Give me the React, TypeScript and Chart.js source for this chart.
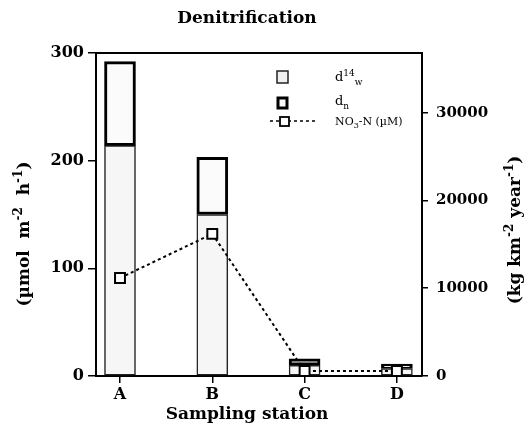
import React, { useEffect, useRef } from "react";
import { Chart, registerables } from "chart.js";
Chart.register(...registerables);

// ---- data ----
const stations = ["A", "B", "C", "D"];
const d14w = [214, 150, 10, 7];
const dn = [78, 53, 6, 4];
const no3n = [91, 132, 4.6, 4.6];
const leftTicks = [0, 100, 200, 300];
const rightTicks = [0, 10000, 20000, 30000];
const CONV = 122.64; // µmol m-2 h-1 -> kg km-2 year-1 (N)

const SERIF = '"DejaVu Serif", serif';

type Seg = { t: string; s?: "sup" | "sub" };

function drawRich(
  ctx: CanvasRenderingContext2D,
  segs: Seg[],
  x: number,
  y: number,
  size: number,
  weight: string,
  align: "center" | "left"
) {
  const fontFor = (s?: string) => `${weight} ${s ? Math.round(size * 0.7) : size}px ${SERIF}`;
  const widths = segs.map((seg) => {
    ctx.font = fontFor(seg.s);
    return ctx.measureText(seg.t).width;
  });
  const total = widths.reduce((a, b) => a + b, 0);
  let cx = align === "center" ? x - total / 2 : x;
  ctx.textBaseline = "alphabetic";
  ctx.textAlign = "left";
  segs.forEach((seg, i) => {
    ctx.font = fontFor(seg.s);
    const dy = seg.s === "sup" ? -size * 0.42 : seg.s === "sub" ? size * 0.3 : 0;
    ctx.fillText(seg.t, cx, y + dy);
    cx += widths[i];
  });
}

const decorPlugin = {
  id: "decor",
  afterDraw(chart: any) {
    const ctx: CanvasRenderingContext2D = chart.ctx;
    const a = chart.chartArea;
    ctx.save();
    ctx.fillStyle = "#000";
    ctx.strokeStyle = "#000";
    // top frame line
    ctx.lineWidth = 2;
    ctx.beginPath();
    ctx.moveTo(a.left - 1, a.top);
    ctx.lineTo(a.right + 1, a.top);
    ctx.stroke();

    // title
    drawRich(ctx, [{ t: "Denitrification" }], 247, 23, 17, "bold", "center");
    // x title
    drawRich(ctx, [{ t: "Sampling station" }], 247, 419, 17, "bold", "center");

    // left y title (rotated)
    ctx.save();
    ctx.translate(29, 234);
    ctx.rotate(-Math.PI / 2);
    drawRich(
      ctx,
      [{ t: "(µmol  m" }, { t: "-2", s: "sup" }, { t: "  h" }, { t: "-1", s: "sup" }, { t: ")" }],
      0,
      0,
      17,
      "bold",
      "center"
    );
    ctx.restore();

    // right y title (rotated)
    ctx.save();
    ctx.translate(520, 230);
    ctx.rotate(-Math.PI / 2);
    drawRich(
      ctx,
      [{ t: "(kg km" }, { t: "-2", s: "sup" }, { t: " year" }, { t: "-1", s: "sup" }, { t: ")" }],
      0,
      0,
      17,
      "bold",
      "center"
    );
    ctx.restore();

    // legend
    // d14w swatch
    ctx.fillStyle = "#efefef";
    ctx.fillRect(277, 71, 11, 12);
    ctx.lineWidth = 1.5;
    ctx.strokeStyle = "#222";
    ctx.strokeRect(277, 71, 11, 12);
    // dn swatch
    ctx.fillStyle = "#fafafa";
    ctx.fillRect(277, 97, 11, 12);
    ctx.lineWidth = 3;
    ctx.strokeStyle = "#000";
    ctx.strokeRect(278, 98, 9, 10);
    // NO3 line swatch
    ctx.lineWidth = 1.5;
    ctx.setLineDash([3, 3]);
    ctx.beginPath();
    ctx.moveTo(270, 121);
    ctx.lineTo(318, 121);
    ctx.stroke();
    ctx.setLineDash([]);
    ctx.fillStyle = "#fff";
    ctx.fillRect(280, 117, 9, 9);
    ctx.lineWidth = 1.8;
    ctx.strokeRect(280, 117, 9, 9);

    ctx.fillStyle = "#000";
    drawRich(ctx, [{ t: "d" }, { t: "14", s: "sup" }, { t: "w", s: "sub" }], 335, 81, 13, "normal", "left");
    drawRich(ctx, [{ t: "d" }, { t: "n", s: "sub" }], 335, 105, 13, "normal", "left");
    drawRich(ctx, [{ t: "NO" }, { t: "3", s: "sub" }, { t: "-N (µM)" }], 335, 125, 11, "normal", "left");

    ctx.restore();
  },
};

export default function App() {
  const ref = useRef<HTMLCanvasElement | null>(null);
  useEffect(() => {
    if (!ref.current) return;
    const tickFont = { family: SERIF, size: 16, weight: "bold" as const };
    const chart = new Chart(ref.current, {
      type: "bar",
      data: {
        datasets: [
          {
            type: "line",
            label: "NO3-N (µM)",
            data: stations.map((_, i) => ({ x: i, y: no3n[i] })),
            yAxisID: "y",
            xAxisID: "x",
            borderColor: "#000",
            borderWidth: 2,
            borderDash: [3, 3],
            pointStyle: "rect",
            pointRadius: 7,
            pointBorderWidth: 2,
            pointBackgroundColor: "#fff",
            pointBorderColor: "#000",
            tension: 0,
            fill: false,
            order: 0,
            stack: "no3",
          } as any,
          {
            type: "bar",
            label: "d14w",
            data: stations.map((_, i) => ({ x: i, y: d14w[i] })),
            yAxisID: "y",
            xAxisID: "x",
            backgroundColor: "#f6f6f6",
            borderColor: "#222",
            borderWidth: 1.5,
            borderSkipped: false,
            barThickness: 31,
            order: 1,
            stack: "s",
          } as any,
          {
            type: "bar",
            label: "dn",
            data: stations.map((_, i) => ({ x: i, y: dn[i] })),
            yAxisID: "y",
            xAxisID: "x",
            backgroundColor: "#fbfbfb",
            borderColor: "#000",
            borderWidth: 3,
            borderSkipped: false,
            barThickness: 31,
            order: 2,
            stack: "s",
          } as any,
        ],
      },
      options: {
        animation: false,
        responsive: true,
        maintainAspectRatio: false,
        layout: { padding: { top: 53, left: 0, right: 0, bottom: 0 } },
        plugins: {
          legend: { display: false },
          title: { display: false },
          tooltip: { enabled: false },
        },
        scales: {
          x: {
            type: "linear",
            position: "bottom",
            stacked: true,
            offset: false,
            min: -0.26,
            max: 3.272,
            afterBuildTicks: (axis: any) => {
              axis.ticks = stations.map((_, i) => ({ value: i }));
            },
            afterFit: (axis: any) => {
              axis.height = 56;
            },
            ticks: {
              callback: (v: any) => stations[Math.round(Number(v))] ?? "",
              font: tickFont,
              color: "#000",
              padding: 2,
              maxRotation: 0,
              autoSkip: false,
            },
            grid: {
              offset: false,
              drawOnChartArea: false,
              drawTicks: true,
              tickLength: 7,
              color: "#000",
              lineWidth: 1.5,
            },
            border: { display: true, color: "#000", width: 2 },
          },
          y: {
            type: "linear",
            position: "left",
            stacked: true,
            min: 0,
            max: 300,
            afterBuildTicks: (axis: any) => {
              axis.ticks = leftTicks.map((v) => ({ value: v }));
            },
            afterFit: (axis: any) => {
              axis.width = 96;
            },
            ticks: { font: tickFont, color: "#000", padding: 4, callback: (v: any) => String(v) },
            grid: { drawOnChartArea: false, drawTicks: true, tickLength: 8, color: "#000", lineWidth: 1.5 },
            border: { display: true, color: "#000", width: 2 },
          },
          y1: {
            type: "linear",
            position: "right",
            min: 0,
            max: 300 * CONV,
            afterBuildTicks: (axis: any) => {
              axis.ticks = rightTicks.map((v) => ({ value: v }));
            },
            afterFit: (axis: any) => {
              axis.width = 103;
            },
            ticks: { font: { ...tickFont, size: 15 }, color: "#000", padding: 8, callback: (v: any) => String(v) },
            grid: { drawOnChartArea: false, drawTicks: true, tickLength: 6, color: "#000", lineWidth: 1.5 },
            border: { display: true, color: "#000", width: 2 },
          },
        },
      } as any,
      plugins: [decorPlugin],
    });
    return () => chart.destroy();
  }, []);
  return (
    <div style={{ position: "fixed", left: 0, top: 0, width: 525, height: 432, background: "#fff" }}>
      <canvas ref={ref} />
    </div>
  );
}
